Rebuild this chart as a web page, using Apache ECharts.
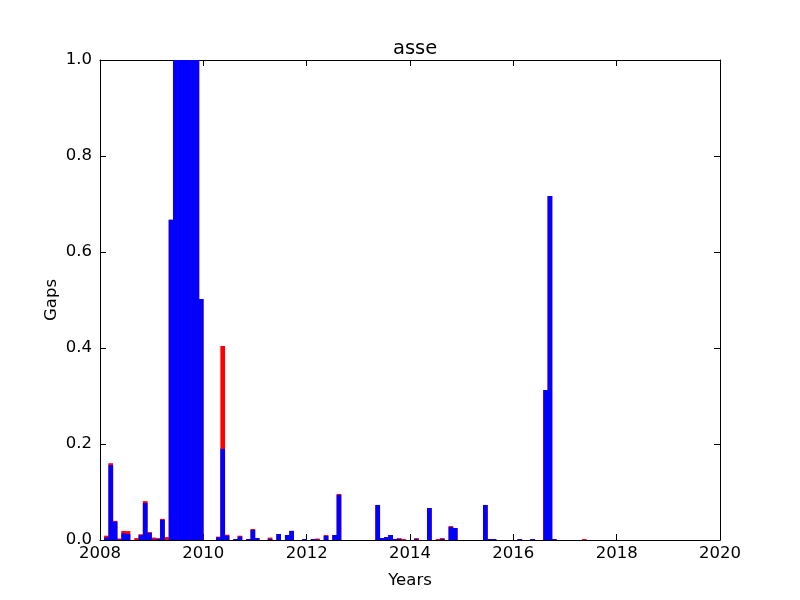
<!DOCTYPE html>
<html>
<head>
<meta charset="utf-8">
<script src="https://cdn.jsdelivr.net/npm/echarts@6/dist/echarts.min.js"></script>
<style>html,body{margin:0;padding:0;background:#fff}#c{width:800px;height:600px}</style>
</head>
<body>
<div id="c"></div>
<script>
// Months (YYYY-MM), blue gap values and red gap values (stacked on top)
const months = ['2008-02','2008-03','2008-04','2008-05','2008-06','2008-07','2008-09','2008-10','2008-11','2008-12',
  '2009-01','2009-02','2009-03','2009-04','2009-05','2009-06','2009-07','2009-08','2009-09','2009-10','2009-11','2009-12',
  '2010-04','2010-05','2010-06','2010-08','2010-09','2010-11','2010-12',
  '2011-01','2011-04','2011-06','2011-08','2011-09','2011-12',
  '2012-02','2012-03','2012-05','2012-07','2012-08',
  '2013-05','2013-06','2013-07','2013-08','2013-09','2013-10','2013-11',
  '2014-02','2014-05','2014-07','2014-08','2014-10','2014-11',
  '2015-06','2015-07','2015-08',
  '2016-02','2016-05','2016-08','2016-09','2016-10',
  '2017-05'];
const blueGaps = [0.005,0.156,0.038,0.001,0.014,0.0125,0.0,0.010,0.077,0.0146,
  0.001,0.002,0.042,0.0,0.667,1.0,1.0,1.0,1.0,1.0,1.0,0.502,
  0.0055,0.19,0.009,0.002,0.007,0.002,0.021,
  0.004,0.002,0.0125,0.0104,0.019,0.002,
  0.002,0.001,0.0083,0.0104,0.094,
  0.073,0.004,0.006,0.0104,0.002,0.002,0.0,
  0.002,0.0667,0.0,0.002,0.027,0.025,
  0.073,0.002,0.002,
  0.002,0.002,0.3125,0.7167,0.002,
  0.0];
const redGaps = [0.004,0.004,0.002,0.002,0.005,0.006,0.004,0.002,0.004,0.002,
  0.004,0.002,0.002,0.006,0,0,0,0,0,0,0,0,
  0.0015,0.214,0.002,0,0.002,0,0.002,
  0,0.003,0,0,0,0,
  0,0.002,0.002,0,0.002,
  0,0,0,0,0,0.002,0.002,
  0.002,0,0.002,0.002,0.002,0,
  0,0,0,
  0,0,0,0,0,
  0.002];
const yTicks = [0, 0.2, 0.4, 0.6, 0.8, 1.0];
const xYears = [2008, 2020];

function monthToX(m) {
  const [y, mo] = m.split('-').map(Number);
  return y + (mo - 0.5) / 12;
}
const xs = months.map(monthToX);

const chart = echarts.init(document.getElementById('c'), null, {renderer: 'canvas'});
const font = 'DejaVu Sans';
const barW = 4.7;

const baseX = {
  type: 'value', min: xYears[0], max: xYears[1], interval: 2,
  axisLine: {show: true, onZero: false, lineStyle: {color: '#000', width: 1}},
  axisTick: {show: true, inside: true, length: 6, lineStyle: {color: '#000'}},
  splitLine: {show: false}
};
const baseY = {
  type: 'value', min: yTicks[0], max: yTicks[yTicks.length - 1], interval: 0.2,
  axisLine: {show: true, lineStyle: {color: '#000', width: 1}},
  axisTick: {show: true, inside: true, length: 6, lineStyle: {color: '#000'}},
  splitLine: {show: false}
};

chart.setOption({
  animation: false,
  backgroundColor: '#fff',
  title: {
    text: 'asse', left: 388, top: 34,
    textStyle: {fontFamily: font, fontSize: 19.5, fontWeight: 'normal', color: '#000'}
  },
  grid: {left: 100, right: 80, top: 60, bottom: 60, containLabel: false},
  xAxis: [
    Object.assign({}, baseX, {
      position: 'bottom',
      name: 'Years', nameLocation: 'middle', nameGap: 32,
      nameTextStyle: {fontFamily: font, fontSize: 16.5, color: '#000'},
      axisLabel: {show: true, fontFamily: font, fontSize: 16.5, color: '#000', margin: 5,
        formatter: v => String(v)}
    }),
    Object.assign({}, baseX, {position: 'top', axisLabel: {show: false}})
  ],
  yAxis: [
    Object.assign({}, baseY, {
      position: 'left',
      name: 'Gaps', nameLocation: 'middle', nameGap: 40, nameMoveOverlap: false,
      nameTextStyle: {fontFamily: font, fontSize: 16.5, color: '#000'},
      axisLabel: {show: true, fontFamily: font, fontSize: 16.5, color: '#000', margin: 8,
        formatter: v => v.toFixed(1)}
    }),
    Object.assign({}, baseY, {position: 'right', axisLabel: {show: false}})
  ],
  series: [
    {
      // red part sits on top of blue: drawn as the total, blue drawn over it
      name: 'red', type: 'bar', barWidth: barW, barGap: '-100%',
      xAxisIndex: 0, yAxisIndex: 0,
      itemStyle: {color: '#ff0000'},
      data: xs.map((x, i) => [x, blueGaps[i] + redGaps[i]])
    },
    {
      name: 'blue', type: 'bar', barWidth: barW, barGap: '-100%',
      xAxisIndex: 0, yAxisIndex: 0,
      itemStyle: {color: '#0000ff'},
      data: xs.map((x, i) => [x, blueGaps[i]])
    }
  ]
});
</script>
</body>
</html>
